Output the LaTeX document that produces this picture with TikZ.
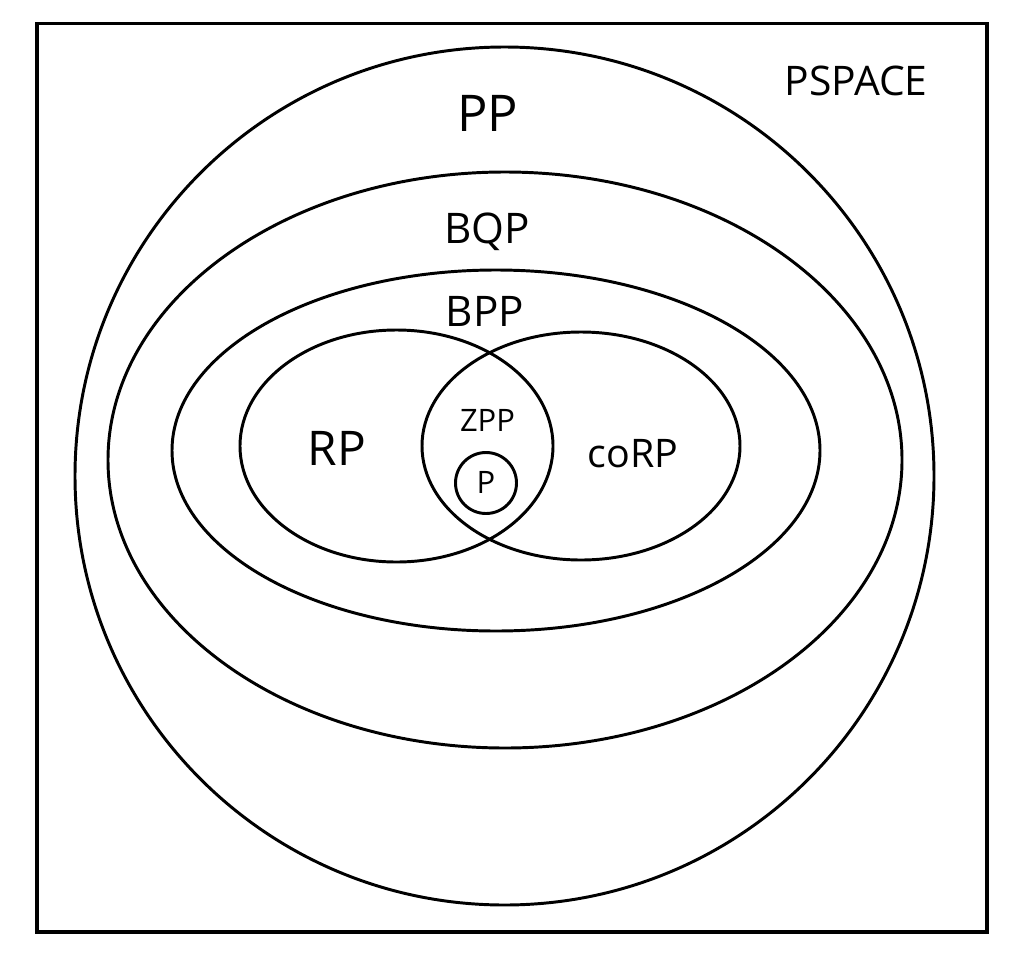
\documentclass[tikz,border=0pt]{standalone}
\usepackage{fontspec}
\setmainfont{Open Sans}
\usetikzlibrary{calc}

\begin{document}
\begin{tikzpicture}[x=0.025cm, y=-0.025cm,
    cls/.style={line width=2.1pt},
    lbl/.style={inner sep=0pt}]
        \useasboundingbox (0, 0) rectangle (1024, 960);

        % PSPACE box
        \draw[line width=2.6pt] (37, 23.5) rectangle (987, 932);

        % nested classes
        \draw[cls] (504.5, 476) ellipse [x radius=429.5, y radius=429];
        \draw[cls] (505, 460) ellipse [x radius=397, y radius=288];
        \draw[cls] (496, 450.5) ellipse [x radius=324, y radius=180.5];

        % RP and coRP, their overlap is ZPP
        \draw[cls] (396.5, 446) ellipse [x radius=156.5, y radius=116];
        \draw[cls] (581, 446) ellipse [x radius=159, y radius=114];
        \draw[cls] (486, 483) circle [radius=30.5];

        \node[lbl, font=\fontsize{29}{30}\selectfont] (pspace) at (856, 81) {PSPACE};
        \node[lbl, font=\fontsize{36}{38}\selectfont] (pp) at (487.5, 113) {PP};
        \node[lbl, font=\fontsize{30}{32}\selectfont] (bqp) at (487, 232) {BQP};
        \node[lbl, font=\fontsize{30}{32}\selectfont] (bpp) at (485, 311) {BPP};
        \node[lbl, font=\fontsize{34}{36}\selectfont] (rp) at (337, 448) {RP};
        \node[lbl, font=\fontsize{28}{30}\selectfont] (corp) at (633, 454) {coRP};
        \node[lbl, font=\fontsize{22}{24}\selectfont] (zpp) at (487.5, 420) {ZPP};
        \node[lbl, font=\fontsize{22}{24}\selectfont] (p) at (486, 482) {P};

      \end{tikzpicture}
\end{document}
